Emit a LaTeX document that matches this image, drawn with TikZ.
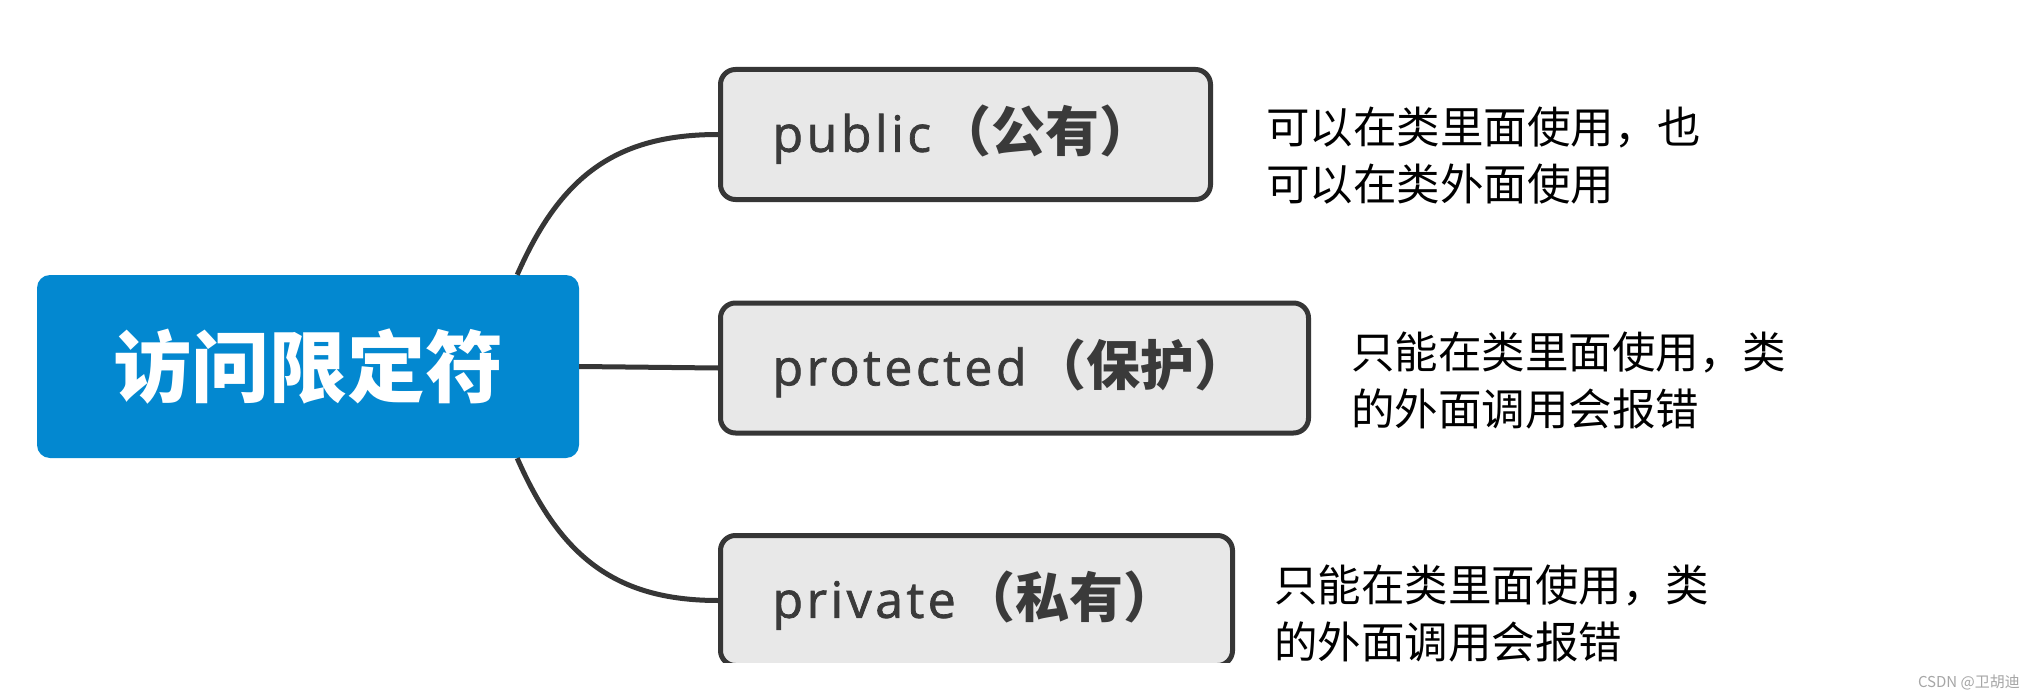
\documentclass[tikz,border=0pt]{standalone}
\usepackage{fontspec}
\newfontfamily\cjk{Noto Sans CJK SC}
\newfontfamily\lat[LetterSpace=7,FakeBold=1.5]{Open Sans}
\definecolor{rootblue}{HTML}{0388D0}
\definecolor{boxfill}{HTML}{E8E8E8}
\definecolor{edgegray}{HTML}{363636}
\definecolor{labelgray}{HTML}{3A3A3A}
\newcommand\leaftext[2]{{\lat\fontsize{50}{54}\selectfont #1}\kern6pt{\cjk\bfseries\fontsize{54}{60}\selectfont （#2）}}
\begin{document}
\begin{tikzpicture}[x=1pt,y=-1pt,
  rootbox/.style={draw=none, fill=rootblue, rounded corners=13pt, minimum width=542pt, minimum height=183pt, inner sep=0pt, text=white, font=\cjk\bfseries\fontsize{78}{80}\selectfont},
  leaf/.style={draw=edgegray, line width=5pt, fill=boxfill, rounded corners=15pt, minimum height=130pt, inner xsep=52pt, inner ysep=0pt, align=left, text=labelgray},
  desc/.style={anchor=north west, inner sep=0pt, align=left, text=black, font=\cjk\fontsize{43.5}{57}\selectfont},
  link/.style={draw=edgegray, line width=5pt}]
\useasboundingbox[fill=white] (0,0) rectangle (2035,698);
\node[rootbox] (root) at (308,366.5) {访问限定符};
\node[leaf, text width=386pt] (pub) at (965.5,134.5) {\leaftext{public}{公有}};
\node[leaf, text width=484pt] (prot) at (1014.5,368) {\leaftext{protected}{保护}};
\begin{scope}
  \clip (0,0) rectangle (2035,662.5);
  \node[leaf, text width=408pt] (priv) at (976.5,600.5) {\leaftext{private}{私有}};
\end{scope}
\draw[link] ([xshift=-62pt]root.north east) .. controls +(43,-98) and +(-103,0) .. (pub.west);
\draw[link] (root.east) -- (prot.west);
\draw[link] ([xshift=-62pt]root.south east) .. controls +(43,98) and +(-103,0) .. (priv.west);
\node[desc] (dpub) at (1266,107) {可以在类里面使用，也\\可以在类外面使用};
\node[desc] (dprot) at (1351,332) {只能在类里面使用，类\\的外面调用会报错};
\node[desc] (dpriv) at (1274,565) {只能在类里面使用，类\\的外面调用会报错};
\node[anchor=east, inner sep=0pt, text=gray!70, font=\cjk\fontsize{15}{18}\selectfont] (wm) at (2020,682) {CSDN @卫胡迪};
\end{tikzpicture}
\end{document}
